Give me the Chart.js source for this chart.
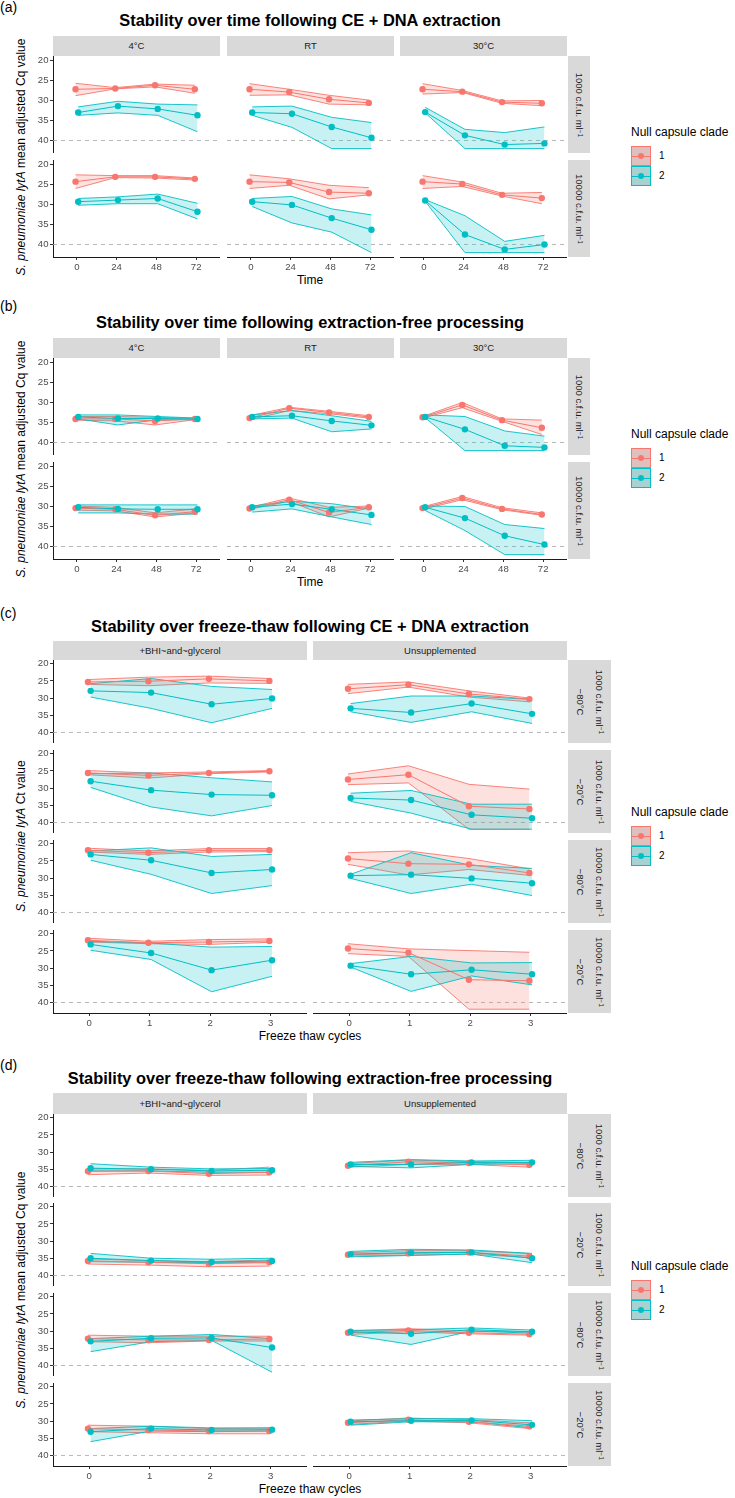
<!DOCTYPE html>
<html>
<head>
<meta charset="utf-8">
<title>lytA stability</title>
<script src="https://cdn.jsdelivr.net/npm/chart.js@4.4.1/dist/chart.umd.min.js"></script>
<style>
  body { margin: 0; background: #fff; }
  #fig { position: relative; width: 735px; height: 1498px; overflow: hidden; font-family: "Liberation Sans", Arial, sans-serif; color: #000; }
  #fig canvas { position: absolute; }
  .t { position: absolute; white-space: nowrap; line-height: 1.15; }
  .plabel { font-size: 14px; }
  .title { font-size: 16.4px; font-weight: bold; }
  .axtitle { font-size: 12px; }
  .strip { position: absolute; background: #d9d9d9; }
  .strip span { position: absolute; left: 50%; top: 50%; white-space: nowrap; font-size: 9.5px; color: #1a1a1a; text-align: center; line-height: 1.1; }
  .rstrip span { line-height: 19px; }
  .legtitle { font-size: 12px; }
  .key { position: absolute; width: 18px; height: 18px; border: 1px solid; }
  .key i { position: absolute; left: 0; right: 0; top: 8.5px; height: 1px; }
  .key b { position: absolute; left: 5.8px; top: 5.8px; width: 6.4px; height: 6.4px; border-radius: 50%; }
  .leglab { font-size: 10px; }
  sup { font-size: 70%; vertical-align: 0.45em; line-height: 0; }
</style>
</head>
<body>
<div id="fig"></div>
<script>
// ---- axes / categories ----
const timeTicks = [0, 24, 48, 72];
const cycleTicks = [0, 1, 2, 3];
const yTicks = [20, 25, 30, 35, 40];
const cladeNames = ['1', '2'];
const cladeColors = ['#F8766D', '#00BFC4'];
const cladeFills = ['rgba(248,118,109,0.22)', 'rgba(0,191,196,0.22)'];
const tempCols = ['4°C', 'RT', '30°C'];
const doseRows = ['1000 c.f.u. ml<sup>−1</sup>', '10000 c.f.u. ml<sup>−1</sup>'];
const suppCols = ['+BHI~and~glycerol', 'Unsupplemented'];
const freezeRows = [
  '1000 c.f.u. ml<sup>−1</sup><br>−80°C',
  '1000 c.f.u. ml<sup>−1</sup><br>−20°C',
  '10000 c.f.u. ml<sup>−1</sup><br>−80°C',
  '10000 c.f.u. ml<sup>−1</sup><br>−20°C'
];

// ---- (a) CE + DNA extraction, facets: [1000: 4C, RT, 30C], [10000: 4C, RT, 30C] ----
const aMean1 = [[27.2, 27.0, 26.2, 27.2], [27.2, 27.9, 29.7, 30.6], [27.2, 27.8, 30.4, 30.7],
                [24.3, 23.1, 23.1, 23.6], [24.3, 24.5, 26.9, 27.2], [24.3, 24.9, 27.6, 28.4]];
const aLo1 = [[25.7, 26.8, 25.9, 26.2], [25.8, 27.2, 28.7, 29.9], [25.8, 27.5, 30.1, 30.0],
              [22.6, 22.8, 22.8, 23.4], [22.6, 23.6, 25.2, 25.8], [22.8, 24.4, 27.2, 27.0]];
const aHi1 = [[28.8, 27.1, 26.6, 28.2], [28.7, 28.6, 30.9, 31.1], [28.4, 28.0, 30.7, 31.3],
              [26.0, 23.3, 23.4, 23.9], [26.0, 25.2, 28.6, 27.6], [26.0, 25.5, 27.9, 29.8]];
const aMean2 = [[33.0, 31.4, 32.1, 33.7], [33.0, 33.3, 36.6, 39.3], [32.9, 38.7, 41.0, 40.7],
                [29.3, 28.9, 28.5, 31.8], [29.3, 30.1, 33.4, 36.3], [29.0, 37.5, 41.2, 40.0]];
const aLo2 = [[31.6, 30.2, 30.9, 31.1], [31.6, 31.4, 34.2, 35.5], [31.7, 37.2, 38.0, 36.6],
              [28.5, 28.1, 27.4, 29.7], [28.5, 28.0, 31.1, 32.6], [28.8, 32.8, 39.2, 37.7]];
const aHi2 = [[33.7, 33.1, 33.7, 37.8], [33.7, 36.7, 42.0, 42.0], [33.1, 42.0, 42.0, 42.0],
              [30.2, 29.8, 29.8, 33.6], [30.5, 34.6, 36.9, 42.0], [29.2, 42.0, 42.0, 42.0]];

// ---- (b) extraction-free ----
const bMean1 = [[34.1, 34.1, 34.6, 34.1], [33.9, 31.4, 32.5, 33.6], [33.7, 30.6, 34.4, 36.3],
                [30.4, 30.7, 32.2, 31.3], [30.5, 28.3, 31.5, 30.2], [30.4, 27.9, 30.6, 32.0]];
const bLo1 = [[33.5, 33.5, 33.7, 33.9], [33.3, 31.2, 32.2, 33.3], [33.5, 30.0, 34.1, 34.4],
              [29.9, 30.2, 31.6, 30.6], [30.2, 27.9, 30.2, 29.9], [30.1, 27.5, 30.3, 31.6]];
const bHi1 = [[34.4, 34.6, 35.6, 34.3], [34.3, 32.0, 32.8, 33.9], [33.9, 31.3, 34.7, 38.0],
              [30.9, 31.1, 32.6, 31.7], [30.7, 28.7, 32.6, 30.4], [30.7, 28.3, 30.8, 32.2]];
const bMean2 = [[33.6, 34.0, 34.0, 34.1], [33.6, 33.3, 34.6, 35.7], [33.6, 36.7, 40.8, 41.2],
                [30.2, 30.6, 30.7, 30.7], [30.2, 29.4, 30.7, 32.1], [30.2, 32.9, 37.3, 39.5]];
const bLo2 = [[33.1, 33.1, 33.5, 33.9], [33.1, 32.0, 33.3, 34.7], [33.1, 33.5, 37.1, 38.4],
              [29.6, 29.6, 29.6, 29.6], [29.9, 28.7, 29.3, 30.7], [29.9, 30.0, 34.5, 35.5]];
const bHi2 = [[34.1, 35.6, 34.3, 34.3], [34.1, 33.9, 37.3, 36.6], [33.8, 42.0, 42.0, 42.0],
              [31.6, 31.6, 31.9, 31.9], [31.4, 30.6, 32.6, 34.5], [31.0, 36.0, 42.0, 42.0]];

// ---- (c) freeze-thaw, CE + DNA extraction; facets row-major [row][BHI, Unsupp] ----
const cMean1 = [[25.3, 25.1, 24.4, 25.0], [27.3, 26.1, 28.8, 30.3],
                [25.6, 26.3, 25.6, 25.1], [27.5, 26.1, 35.3, 36.1],
                [21.9, 22.6, 21.9, 21.9], [24.3, 25.8, 26.0, 28.5],
                [21.9, 22.6, 22.4, 22.1], [24.3, 25.5, 33.4, 33.7]];
const cLo1 = [[24.6, 23.9, 23.6, 24.3], [26.0, 25.3, 27.9, 30.0],
              [24.9, 25.6, 25.3, 24.9], [25.9, 23.5, 28.9, 30.3],
              [21.3, 22.1, 21.4, 21.4], [22.6, 22.1, 24.3, 27.3],
              [21.3, 22.2, 21.7, 21.5], [22.9, 24.4, 24.9, 25.4]];
const cHi1 = [[26.0, 26.4, 25.6, 25.7], [28.7, 26.8, 29.7, 31.1],
              [26.1, 27.1, 25.8, 25.3], [29.0, 28.5, 42.0, 42.0],
              [22.4, 23.1, 22.4, 22.3], [26.0, 29.1, 27.5, 29.2],
              [22.4, 22.9, 23.1, 22.5], [25.8, 26.6, 42.0, 42.0]];
const cMean2 = [[27.9, 28.4, 31.8, 30.1], [33.0, 34.2, 31.6, 34.6],
                [28.0, 30.6, 31.9, 32.1], [32.9, 33.5, 37.8, 38.8],
                [23.1, 24.8, 28.5, 27.5], [29.3, 29.0, 30.1, 31.5],
                [23.1, 25.6, 30.6, 27.7], [29.3, 31.8, 30.5, 31.8]];
const cLo2 = [[25.8, 24.3, 26.6, 27.5], [31.6, 29.4, 29.4, 30.4],
              [25.8, 25.6, 27.0, 28.2], [31.5, 30.7, 34.7, 34.7],
              [22.1, 21.2, 23.7, 23.1], [28.9, 22.6, 26.3, 27.2],
              [22.2, 22.7, 23.9, 23.7], [28.7, 26.6, 28.5, 28.4]];
const cHi2 = [[29.7, 33.0, 37.2, 33.0], [34.0, 37.1, 34.0, 37.4],
              [29.8, 35.5, 38.1, 35.1], [33.9, 37.3, 42.0, 42.0],
              [24.8, 28.9, 34.5, 32.2], [30.1, 34.5, 31.8, 35.1],
              [24.8, 27.5, 36.9, 32.4], [29.7, 36.8, 32.3, 34.9]];

// ---- (d) freeze-thaw, extraction-free ----
const dMean1 = [[35.6, 35.5, 36.3, 35.9], [34.0, 32.8, 33.2, 33.7],
                [35.8, 36.2, 36.6, 36.2], [34.0, 33.6, 33.3, 34.4],
                [32.2, 32.6, 32.6, 32.3], [30.5, 29.8, 30.5, 30.9],
                [32.2, 32.6, 32.9, 32.9], [30.5, 29.6, 30.2, 31.5]];
const dLo1 = [[34.9, 34.9, 35.3, 34.4], [33.4, 32.3, 32.8, 33.0],
              [35.2, 35.7, 36.0, 35.5], [33.4, 32.8, 32.8, 33.6],
              [31.2, 31.5, 31.5, 31.5], [30.0, 29.3, 30.0, 30.2],
              [31.2, 31.5, 32.2, 32.0], [30.0, 29.1, 29.6, 30.5]];
const dHi1 = [[36.6, 36.1, 36.8, 36.7], [34.4, 33.6, 33.6, 34.4],
              [36.7, 37.0, 37.5, 37.3], [34.4, 34.1, 33.8, 34.8],
              [33.1, 33.4, 32.9, 32.9], [31.0, 30.2, 30.8, 31.2],
              [33.1, 33.4, 33.7, 33.7], [31.0, 30.0, 30.5, 32.2]];
const dMean2 = [[34.7, 35.0, 35.5, 35.3], [33.6, 33.6, 33.0, 33.0],
                [35.0, 35.7, 36.1, 35.8], [33.8, 33.4, 33.3, 35.0],
                [33.0, 32.1, 32.0, 34.8], [30.2, 30.8, 29.6, 30.2],
                [33.1, 32.2, 32.6, 32.5], [30.2, 29.9, 29.8, 31.1]];
const dLo2 = [[33.4, 34.4, 34.9, 34.8], [33.0, 32.2, 32.6, 32.4],
              [33.6, 35.0, 35.3, 35.0], [33.0, 32.4, 32.6, 33.6],
              [32.2, 31.5, 31.0, 32.2], [29.8, 29.6, 29.1, 29.7],
              [32.2, 31.5, 32.0, 32.0], [29.7, 29.3, 29.3, 29.9]];
const dHi2 = [[35.5, 35.5, 35.9, 35.9], [34.2, 34.6, 33.6, 33.4],
              [36.0, 36.2, 36.3, 36.3], [34.6, 34.2, 33.8, 36.3],
              [36.0, 33.1, 32.7, 42.0], [31.2, 33.9, 30.0, 30.6],
              [36.0, 32.9, 33.1, 32.9], [31.2, 30.2, 30.2, 32.0]];

const Y_MIN = 18.9, Y_MAX = 43.1;
const FONT = '"Liberation Sans", Arial, sans-serif';
Chart.defaults.font.family = FONT;
const fig = document.getElementById('fig');

function txt(html, cls, x, y, anchor, rot) {
  const d = document.createElement('div');
  d.className = 't ' + cls;
  d.innerHTML = html;
  d.style.left = x + 'px';
  d.style.top = y + 'px';
  const tx = anchor === 'l' ? '0' : '-50%';
  d.style.transform = `translate(${tx},-50%)` + (rot ? ` rotate(${rot}deg)` : '');
  fig.appendChild(d);
}

function strip(x, y, w, h, html, vertical) {
  const d = document.createElement('div');
  d.className = 'strip' + (vertical ? ' rstrip' : '');
  Object.assign(d.style, { left: x + 'px', top: y + 'px', width: w + 'px', height: h + 'px' });
  d.innerHTML = `<span style="transform:translate(-50%,-50%)${vertical ? ' rotate(90deg)' : ''}">${html}</span>`;
  fig.appendChild(d);
}

function legend(x, titleY, keyY) {
  txt('Null capsule clade', 'legtitle', x, titleY, 'l');
  cladeNames.forEach((n, k) => {
    const y = keyY + k * 20;
    const d = document.createElement('div');
    d.className = 'key';
    d.style.left = x + 'px';
    d.style.top = y + 'px';
    d.style.borderColor = cladeColors[k];
    d.style.background = `linear-gradient(${cladeFills[k]},${cladeFills[k]}), #d6d6d6`;
    d.innerHTML = `<i style="background:${cladeColors[k]}"></i><b style="background:${cladeColors[k]}"></b>`;
    fig.appendChild(d);
    txt(n, 'leglab', x + 28, y + 10, 'l');
  });
}

function facet(o) {
  const yW = o.showY ? 22 : 0, xH = o.showX ? 16 : 0;
  const left = Math.round(o.x), top = Math.round(o.y), w = Math.round(o.w), h = Math.round(o.h);
  const cv = document.createElement('canvas');
  cv.width = w + yW; cv.height = h + xH;
  cv.style.left = (left - yW) + 'px';
  cv.style.top = top + 'px';
  cv.style.width = cv.width + 'px';
  cv.style.height = cv.height + 'px';
  fig.appendChild(cv);

  const datasets = [{
    data: [{ x: o.xMin, y: 40 }, { x: o.xMax, y: 40 }],
    borderColor: '#a6a6a6', borderWidth: 0.8, borderDash: [4, 4],
    pointRadius: 0, fill: false, order: 100
  }];
  o.series.forEach((s, k) => {
    const xs = o.xTicks.map(t => t + (k === 0 ? -o.dodge : o.dodge));
    const pts = arr => arr.map((v, i) => ({ x: xs[i], y: v }));
    datasets.push({ data: pts(s.lo), borderColor: cladeColors[k], borderWidth: 0.9,
      pointRadius: 0, fill: false, order: 50 - k * 5 });
    datasets.push({ data: pts(s.hi), borderColor: cladeColors[k], borderWidth: 0.9,
      pointRadius: 0, fill: '-1', backgroundColor: cladeFills[k], order: 50 - k * 5 });
    datasets.push({ data: pts(s.mean), borderColor: cladeColors[k], borderWidth: 1,
      pointRadius: 3.2, pointBackgroundColor: cladeColors[k], pointBorderWidth: 0,
      fill: false, order: 20 - k * 5 });
  });

  const tickFont = { family: FONT, size: 9.6 };
  new Chart(cv, {
    type: 'line',
    data: { datasets },
    options: {
      responsive: false, animation: false, events: [], devicePixelRatio: 1,
      layout: { padding: 0, autoPadding: false },
      plugins: { legend: { display: false }, tooltip: { enabled: false } },
      scales: {
        x: {
          type: 'linear', min: o.xMin, max: o.xMax, display: o.showX,
          afterBuildTicks: s => { s.ticks = o.xTicks.map(v => ({ value: v })); },
          afterFit: s => { s.height = xH; s.paddingLeft = 0; s.paddingRight = 0; s.paddingTop = 0; s.paddingBottom = 0; },
          grid: { display: true, drawOnChartArea: false, drawTicks: true, tickLength: 3, color: '#333', lineWidth: 1 },
          border: { display: true, color: '#1a1a1a', width: 1 },
          ticks: { color: '#4d4d4d', font: tickFont, padding: 2, maxRotation: 0, autoSkip: false }
        },
        y: {
          type: 'linear', reverse: true, min: Y_MIN, max: Y_MAX, display: o.showY,
          afterBuildTicks: s => { s.ticks = yTicks.map(v => ({ value: v })); },
          afterFit: s => { s.width = yW; s.paddingTop = 0; s.paddingBottom = 0; s.paddingLeft = 0; s.paddingRight = 0; },
          grid: { display: true, drawOnChartArea: false, drawTicks: true, tickLength: 3, color: '#333', lineWidth: 1 },
          border: { display: true, color: '#1a1a1a', width: 1 },
          ticks: { color: '#4d4d4d', font: tickFont, padding: 1.5, autoSkip: false }
        }
      }
    }
  });
}

const YT_CQ = '<i>S. pneumoniae lytA</i> mean adjusted Cq value';
const YT_CT = '<i>S. pneumoniae lytA</i> Ct value';

// time panels (a), (b): 2 rows x 3 columns
function timePanel(off, label, labelY, title, m1, lo1, hi1, m2, lo2, hi2) {
  const colX = [53, 226.6, 400.2], colW = 167, rowY = [56 + off, 160 + off], rowH = 97.3;
  txt(label, 'plabel', 0, labelY, 'l');
  txt(title, 'title', 310, 20 + off);
  colX.forEach((x, c) => strip(Math.round(x), 36 + off, colW, 20, tempCols[c], false));
  rowY.forEach((y, r) => strip(568, Math.round(y), 22, Math.round(rowH), doseRows[r], true));
  rowY.forEach((y, r) => colX.forEach((x, c) => {
    const i = r * 3 + c;
    facet({
      x, y, w: colW, h: rowH, showY: c === 0, showX: r === 1,
      xMin: -14.4, xMax: 86.4, xTicks: timeTicks, dodge: 0.8,
      series: [{ mean: m1[i], lo: lo1[i], hi: hi1[i] }, { mean: m2[i], lo: lo2[i], hi: hi2[i] }]
    });
  }));
  txt('Time', 'axtitle', 310, rowY[1] + rowH + 24);
  txt(YT_CQ, 'axtitle', 22, (rowY[0] + rowY[1] + rowH) / 2, 'c', -90);
  legend(631, 133 + off, 146 + off);
}

// freeze-thaw panels (c), (d): 4 rows x 2 columns
function cyclePanel(g, m1, lo1, hi1, m2, lo2, hi2) {
  const colX = [52.7, 313.3], colW = 254, rowH = 83.2;
  const rowY = [0, 1, 2, 3].map(r => g.rowTop + r * g.step);
  txt(g.label, 'plabel', 0, g.labelY, 'l');
  txt(g.title, 'title', 310, g.titleY);
  colX.forEach((x, c) => strip(Math.round(x), g.stripTop, colW, Math.round(g.rowTop - g.stripTop), suppCols[c], false));
  rowY.forEach((y, r) => strip(568, Math.round(y), 43, Math.round(rowH), freezeRows[r], true));
  rowY.forEach((y, r) => colX.forEach((x, c) => {
    const i = r * 2 + c;
    facet({
      x, y, w: colW, h: rowH, showY: c === 0, showX: r === 3,
      xMin: -0.6, xMax: 3.6, xTicks: cycleTicks, dodge: 0.022,
      series: [{ mean: m1[i], lo: lo1[i], hi: hi1[i] }, { mean: m2[i], lo: lo2[i], hi: hi2[i] }]
    });
  }));
  txt('Freeze thaw cycles', 'axtitle', 310, rowY[3] + rowH + 24);
  txt(g.yTitle, 'axtitle', 22, (rowY[0] + rowY[3] + rowH) / 2, 'c', -90);
  legend(631, g.legendY, g.legendY + 13);
}

timePanel(0, '(a)', 7, 'Stability over time following CE + DNA extraction',
  aMean1, aLo1, aHi1, aMean2, aLo2, aHi2);
timePanel(302, '(b)', 306, 'Stability over time following extraction-free processing',
  bMean1, bLo1, bHi1, bMean2, bLo2, bHi2);
cyclePanel({ label: '(c)', labelY: 613, title: 'Stability over freeze-thaw following CE + DNA extraction',
  titleY: 625.7, stripTop: 641, rowTop: 659.5, step: 90, legendY: 813, yTitle: YT_CT },
  cMean1, cLo1, cHi1, cMean2, cLo2, cHi2);
cyclePanel({ label: '(d)', labelY: 1065, title: 'Stability over freeze-thaw following extraction-free processing',
  titleY: 1077.7, stripTop: 1093, rowTop: 1113.5, step: 89.9, legendY: 1267, yTitle: YT_CQ },
  dMean1, dLo1, dHi1, dMean2, dLo2, dHi2);
</script>
</body>
</html>
